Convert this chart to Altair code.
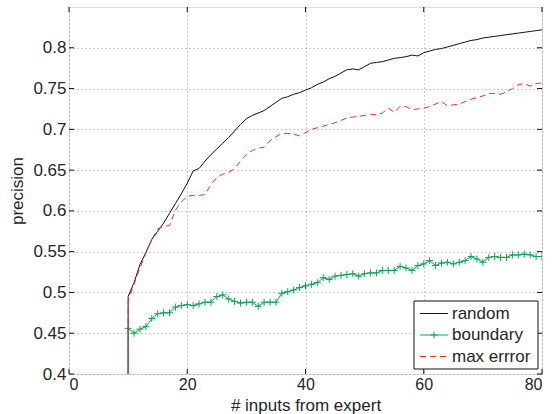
import altair as alt
import pandas as pd

steps = list(range(10, 81))

random_vals = [0.495, 0.512, 0.534, 0.549, 0.565, 0.575, 0.585, 0.597, 0.609, 0.621,
               0.634, 0.649, 0.652, 0.661, 0.669, 0.676, 0.683, 0.690, 0.698, 0.706,
               0.713, 0.717, 0.720, 0.723, 0.728, 0.733, 0.738, 0.740, 0.743, 0.745,
               0.748, 0.751, 0.755, 0.758, 0.762, 0.765, 0.769, 0.773, 0.774, 0.773,
               0.777, 0.781, 0.782, 0.783, 0.785, 0.787, 0.788, 0.789, 0.791, 0.790,
               0.794, 0.796, 0.798, 0.799, 0.801, 0.803, 0.805, 0.807, 0.809, 0.810,
               0.812, 0.813, 0.814, 0.815, 0.816, 0.817, 0.818, 0.819, 0.820, 0.821,
               0.822]

boundary_vals = [0.456, 0.450, 0.455, 0.458, 0.468, 0.474, 0.475, 0.475, 0.482, 0.484,
                 0.485, 0.484, 0.486, 0.488, 0.488, 0.495, 0.497, 0.492, 0.489, 0.487,
                 0.488, 0.488, 0.483, 0.488, 0.488, 0.488, 0.499, 0.501, 0.503, 0.506,
                 0.508, 0.510, 0.512, 0.518, 0.516, 0.520, 0.521, 0.522, 0.523, 0.520,
                 0.523, 0.524, 0.524, 0.527, 0.527, 0.527, 0.532, 0.530, 0.527, 0.533,
                 0.535, 0.539, 0.533, 0.536, 0.537, 0.535, 0.537, 0.539, 0.544, 0.541,
                 0.537, 0.543, 0.544, 0.543, 0.543, 0.546, 0.546, 0.547, 0.546, 0.544,
                 0.544]

maxerr_vals = [0.490, 0.510, 0.530, 0.548, 0.565, 0.578, 0.581, 0.582, 0.601, 0.611,
               0.618, 0.619, 0.619, 0.620, 0.632, 0.641, 0.645, 0.647, 0.652, 0.661,
               0.669, 0.674, 0.677, 0.678, 0.686, 0.691, 0.695, 0.695, 0.694, 0.692,
               0.696, 0.700, 0.702, 0.704, 0.706, 0.708, 0.711, 0.714, 0.715, 0.716,
               0.717, 0.718, 0.718, 0.720, 0.726, 0.721, 0.728, 0.728, 0.724, 0.725,
               0.726, 0.728, 0.731, 0.734, 0.729, 0.730, 0.731, 0.734, 0.737, 0.739,
               0.741, 0.744, 0.744, 0.743, 0.746, 0.750, 0.755, 0.756, 0.753, 0.756,
               0.757]

series_names = ["random", "boundary", "max errror"]
x_ticks = [0, 20, 40, 60, 80]
y_ticks = [0.4, 0.45, 0.5, 0.55, 0.6, 0.65, 0.7, 0.75, 0.8]
floor_value = 0.4

FONT = "Liberation Sans"
FS = 17
BLACK = "#111111"
TXT = "#262626"
GREEN = "#0ea552"
RED = "#ee3030"
W, H = 473, 367


def series_frame(vals):
    return pd.DataFrame({
        "idx": list(range(len(steps) + 1)),
        "x": [steps[0]] + steps,
        "y": [floor_value] + vals,
    })


xscale = alt.Scale(domain=[0, 80], nice=False)
yscale = alt.Scale(domain=[0.4, 0.85], nice=False)

x_axis = alt.Axis(values=x_ticks, title="# inputs from expert", grid=True,
                  gridDash=[1, 3], gridColor="#999999", ticks=False, domain=False,
                  labelFont=FONT, labelFontSize=16, labelColor=TXT, labelPadding=2,
                  labelFontWeight="normal",
                  titleFont=FONT, titleFontSize=FS, titleFontWeight="normal",
                  titleColor=TXT, titleY=36, titleBaseline="alphabetic")
y_axis = alt.Axis(values=y_ticks, format="~g", title="precision", grid=True,
                  gridDash=[1, 3], gridColor="#999999", ticks=False, domain=False,
                  labelFont=FONT, labelFontSize=FS, labelColor=TXT, labelPadding=3,
                  labelFontWeight="normal",
                  titleFont=FONT, titleFontSize=FS, titleFontWeight="normal",
                  titleColor=TXT, titleX=-52, titleBaseline="middle")

random_line = alt.Chart(series_frame(random_vals)).mark_line(
    color=BLACK, strokeWidth=1, clip=True).encode(
    x=alt.X("x:Q", scale=xscale, axis=x_axis),
    y=alt.Y("y:Q", scale=yscale, axis=y_axis),
    order=alt.Order("idx:Q"))

boundary_line = alt.Chart(series_frame(boundary_vals)).mark_line(
    color=GREEN, strokeWidth=1, clip=True).encode(
    x=alt.X("x:Q", scale=xscale), y=alt.Y("y:Q", scale=yscale),
    order=alt.Order("idx:Q"))

boundary_pts = alt.Chart(pd.DataFrame({"x": steps, "y": boundary_vals})).mark_point(
    shape="M-1,0L1,0M0,-1L0,1", size=49, strokeWidth=1, color=GREEN,
    filled=False, opacity=1, clip=True).encode(
    x=alt.X("x:Q", scale=xscale), y=alt.Y("y:Q", scale=yscale))

maxerr_line = alt.Chart(series_frame(maxerr_vals)).mark_line(
    color=RED, strokeWidth=1, strokeDash=[6, 4], clip=True).encode(
    x=alt.X("x:Q", scale=xscale), y=alt.Y("y:Q", scale=yscale),
    order=alt.Order("idx:Q"))

# inward ticks (MATLAB style) on all four sides
xt = pd.DataFrame({"v": x_ticks})
yt = pd.DataFrame({"v": y_ticks})
tick_bottom = alt.Chart(xt).mark_rule(color=BLACK, strokeWidth=1).encode(
    x=alt.X("v:Q", scale=xscale), y=alt.value(H), y2=alt.value(H - 5))
tick_top = alt.Chart(xt).mark_rule(color=BLACK, strokeWidth=1).encode(
    x=alt.X("v:Q", scale=xscale), y=alt.value(0), y2=alt.value(5))
tick_left = alt.Chart(yt).mark_rule(color=BLACK, strokeWidth=1).encode(
    y=alt.Y("v:Q", scale=yscale), x=alt.value(0), x2=alt.value(5))
tick_right = alt.Chart(yt).mark_rule(color=BLACK, strokeWidth=1).encode(
    y=alt.Y("v:Q", scale=yscale), x=alt.value(W), x2=alt.value(W - 5))

# legend (one row of data per drawn element, so nothing is drawn twice)
lx0, lx1, ly0, ly1 = 345, 469, 294, 362
rows_y = [306.5, 328, 349.5]
sym_x0, sym_x1, text_x = 351, 379, 383

legend_box = alt.Chart(pd.DataFrame({"label": ["box"]})).mark_rect(
    fill="white", stroke=BLACK, strokeWidth=1).encode(
    x=alt.value(lx0), x2=alt.value(lx1), y=alt.value(ly0), y2=alt.value(ly1))

legend_layers = [legend_box]
styles = [dict(color=BLACK), dict(color=GREEN), dict(color=RED, strokeDash=[6, 4])]
for name, yy, st in zip(series_names, rows_y, styles):
    one = pd.DataFrame({"label": [name]})
    legend_layers.append(alt.Chart(one).mark_rule(strokeWidth=1, **st).encode(
        x=alt.value(sym_x0), x2=alt.value(sym_x1), y=alt.value(yy)))
    legend_layers.append(alt.Chart(one).mark_text(
        font=FONT, fontSize=FS, fontWeight="normal", color=TXT,
        align="left", baseline="middle").encode(
        x=alt.value(text_x), y=alt.value(yy), text=alt.Text("label:N")))
legend_layers.append(alt.Chart(pd.DataFrame({"label": [series_names[1]]})).mark_point(
    shape="M-1,0L1,0M0,-1L0,1", size=49, strokeWidth=1, color=GREEN,
    filled=False, opacity=1).encode(
    x=alt.value((sym_x0 + sym_x1) / 2), y=alt.value(rows_y[1])))

chart = alt.layer(
    random_line, boundary_line, boundary_pts, maxerr_line,
    tick_bottom, tick_top, tick_left, tick_right,
    *legend_layers
).properties(
    width=W, height=H,
    padding={"left": 69, "top": 7, "right": 10, "bottom": 40},
    autosize="none",
).configure_view(
    stroke=BLACK, strokeWidth=1
).configure(background="white")

chart.save("out.html", embed_options={"renderer": "svg", "actions": False})
